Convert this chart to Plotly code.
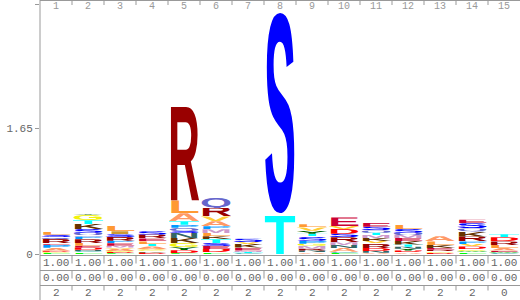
import base64
import plotly.graph_objects as go

# ---------------- data ----------------
positions = list(range(1, 16))

# letters listed bottom -> top for each column
col_letters = [
    "FGDAPERQSL",
    "FCNDELRPMQSKTGY",
    "FDGAVMEPRSIL",
    "DKGVATLERS",
    "FDYGKNSQPTALR",
    "FDESTKLMPAVRQ",
    "CTMEKVS",
    "TS",
    "ANRMGPSTYVL",
    "FCANMRSDVE",
    "ANDRVKMTQSE",
    "ADYNTKEMQSL",
    "DGREKLA",
    "FWGDVPRKQSE",
    "CWEALRDT",
]
col_heights = [
    [0.015, 0.015, 0.012, 0.04, 0.04, 0.02, 0.055, 0.025, 0.03, 0.04],
    [0.02, 0.015, 0.02, 0.03, 0.025, 0.035, 0.05, 0.035, 0.02, 0.03, 0.05, 0.065, 0.05, 0.07, 0.015],
    [0.01, 0.015, 0.015, 0.025, 0.02, 0.025, 0.03, 0.035, 0.05, 0.035, 0.04, 0.07],
    [0.015, 0.02, 0.015, 0.015, 0.035, 0.03, 0.035, 0.04, 0.05, 0.045],
    [0.01, 0.04, 0.04, 0.055, 0.065, 0.065, 0.03, 0.04, 0.04, 0.045, 0.105, 0.17, 1.27],
    [0.02, 0.045, 0.04, 0.04, 0.05, 0.04, 0.04, 0.05, 0.04, 0.065, 0.065, 0.11, 0.14],
    [0.01, 0.015, 0.02, 0.04, 0.045, 0.025, 0.045],
    [0.53, 2.76],
    [0.02, 0.025, 0.025, 0.04, 0.025, 0.04, 0.06, 0.03, 0.04, 0.045, 0.04],
    [0.015, 0.015, 0.05, 0.04, 0.035, 0.065, 0.045, 0.065, 0.04, 0.11],
    [0.015, 0.025, 0.04, 0.06, 0.03, 0.04, 0.04, 0.03, 0.03, 0.05, 0.06],
    [0.02, 0.025, 0.025, 0.025, 0.03, 0.045, 0.04, 0.04, 0.03, 0.05, 0.05],
    [0.015, 0.02, 0.02, 0.025, 0.04, 0.045, 0.07],
    [0.02, 0.02, 0.02, 0.04, 0.03, 0.035, 0.065, 0.065, 0.04, 0.07, 0.045],
    [0.01, 0.015, 0.02, 0.035, 0.04, 0.045, 0.055, 0.04],
]
occupancy = ["1.00"] * 15
insert_prob = ["0.00"] * 15
insert_len = ["2"] * 14 + ["0"]

y_tick_vals = [0, 1.65, 3.29]
y_tick_text = ["0", "1.65", "3.29"]

aa_colors = {
    "A": "#FF9966", "C": "#009999", "D": "#FF0000", "E": "#CC0033",
    "F": "#00FF00", "G": "#f2f20c", "H": "#660033", "I": "#CC9933",
    "K": "#663300", "L": "#FF9933", "M": "#CC99CC", "N": "#336666",
    "P": "#0099FF", "Q": "#6666CC", "R": "#990000", "S": "#0000FF",
    "T": "#00FFFF", "V": "#FFCC33", "W": "#66CC66", "Y": "#006600",
}

# ---------------- helpers ----------------
ROUND = set("CGOQS")


def glyph_uri(letter, uid):
    if letter == "Q":
        vb = "20 -735 660 800"
    elif letter in ROUND:
        vb = "20 -730 660 742"
    else:
        vb = "20 -716 660 716"
    svg = (
        f'<svg xmlns="http://www.w3.org/2000/svg" id="g{uid}" width="700" height="716" '
        f'viewBox="{vb}" preserveAspectRatio="none">'
        '<text x="0" y="0" font-family="Liberation Sans, Arial, sans-serif" '
        'font-weight="bold" font-size="1000" textLength="700" '
        f'lengthAdjust="spacingAndGlyphs" fill="{aa_colors[letter]}">{letter}</text></svg>'
    )
    return "data:image/svg+xml;base64," + base64.b64encode(svg.encode()).decode()


W, H = 520, 300
ML, MR, MT, MB = 40, 0, 4, 46
PH = H - MT - MB  # plot height in px


def py2paper(pix):
    return (H - MB - pix) / PH


fig = go.Figure()
fig.add_trace(go.Scatter(x=positions, y=[0] * len(positions), mode="markers",
                         marker=dict(opacity=0), hoverinfo="skip", showlegend=False))

images = []
col_w = 0.95
uid = 0
for pos, letters, heights in zip(positions, col_letters, col_heights):
    base = 0.0
    for letter, h in zip(letters, heights):
        uid += 1
        images.append(dict(
            source=glyph_uri(letter, uid), xref="x", yref="y",
            x=pos - col_w / 2, y=base + h, sizex=col_w, sizey=h,
            xanchor="left", yanchor="top", sizing="stretch", layer="above",
        ))
        base += h

line_col = "#999999"
text_col = "#666666"
mono = "Liberation Mono, DejaVu Sans Mono, monospace"

shapes = []
annotations = []
# full-height y axis line
shapes.append(dict(type="line", xref="paper", yref="paper", x0=0, x1=0,
                   y0=py2paper(300), y1=py2paper(0), line=dict(color=line_col, width=1)))
# top line and top ticks
shapes.append(dict(type="line", xref="paper", yref="paper", x0=0, x1=1,
                   y0=py2paper(0.5), y1=py2paper(0.5), line=dict(color=line_col, width=1)))
for b in positions[:-1]:
    shapes.append(dict(type="line", xref="x", yref="paper", x0=b + 0.5, x1=b + 0.5,
                       y0=py2paper(0), y1=py2paper(5), line=dict(color=line_col, width=1)))
# bottom rows lines
row_lines = [255.5, 270.5, 285.5]
for yl in row_lines:
    shapes.append(dict(type="line", xref="paper", yref="paper", x0=0, x1=1,
                       y0=py2paper(yl), y1=py2paper(yl), line=dict(color=line_col, width=1)))
    for b in positions[:-1]:
        shapes.append(dict(type="line", xref="x", yref="paper", x0=b + 0.5, x1=b + 0.5,
                           y0=py2paper(yl), y1=py2paper(yl + (8 if yl < 280 else 5)),
                           line=dict(color=line_col, width=1)))

# top position numbers
for p in positions:
    annotations.append(dict(x=p, y=py2paper(6), xref="x", yref="paper", text=str(p),
                            showarrow=False, xanchor="center", yanchor="middle",
                            font=dict(family=mono, size=10, color="#999999")))
# bottom rows text
for row_vals, yc in zip([occupancy, insert_prob, insert_len], [263, 278, 292.5]):
    for p, v in zip(positions, row_vals):
        annotations.append(dict(x=p, y=py2paper(yc), xref="x", yref="paper", text=v,
                                showarrow=False, xanchor="center", yanchor="middle",
                                font=dict(family=mono, size=11, color=text_col)))

fig.update_layout(
    width=W, height=H,
    margin=dict(l=ML, r=MR, t=MT, b=MB, pad=0, autoexpand=False),
    paper_bgcolor="white", plot_bgcolor="white",
    showlegend=False,
    xaxis=dict(range=[0.5, 15.5], visible=False, fixedrange=True),
    yaxis=dict(range=[0, 3.29], tickvals=y_tick_vals, ticktext=y_tick_text,
               ticks="outside", ticklen=4, tickcolor=line_col, showline=False,
               showgrid=False, zeroline=False, automargin=False,
               tickfont=dict(family=mono, size=11, color=text_col)),
    images=images, shapes=shapes, annotations=annotations,
)

fig.write_html("out.html")
